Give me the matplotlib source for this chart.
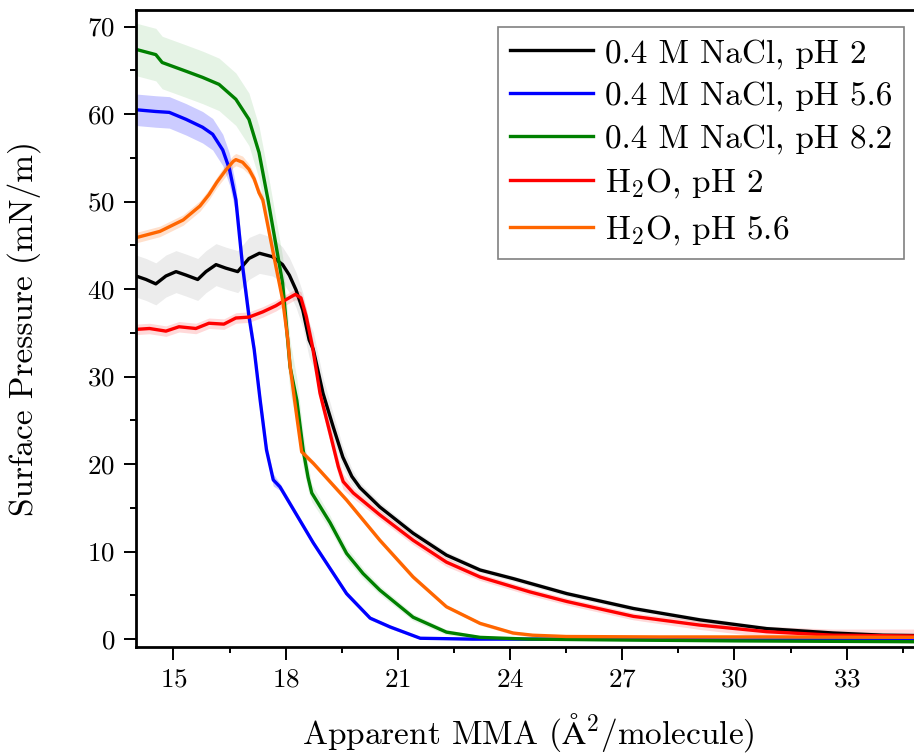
import numpy as np
import matplotlib
matplotlib.use("Agg")
import matplotlib.pyplot as plt
from matplotlib.ticker import MultipleLocator

plt.rcParams['font.family'] = ['serif']
plt.rcParams['font.serif'] = ['cmr10', 'DejaVu Serif']
plt.rcParams['mathtext.fontset'] = 'cm'
plt.rcParams['axes.formatter.use_mathtext'] = True

# 0.4 M NaCl, pH 2
x_nacl2 = [14.0, 14.27, 14.53, 14.8, 15.07, 15.34, 15.65, 15.87, 16.14, 16.4, 16.72, 17.02, 17.3, 17.65,
           17.92, 18.1, 18.28, 18.46, 18.63, 18.74, 19.0, 19.27, 19.53, 19.77, 19.99, 20.52, 21.41, 22.3,
           23.2, 24.1, 25.52, 27.3, 29.08, 30.86, 32.64, 33.97, 35.0]
y_nacl2 = [41.5, 41.1, 40.6, 41.5, 42.0, 41.6, 41.1, 42.0, 42.8, 42.4, 42.0, 43.5, 44.1, 43.7,
           42.8, 41.6, 39.9, 37.6, 34.2, 33.1, 28.1, 24.3, 20.8, 18.6, 17.3, 15.1, 12.1, 9.6,
           7.9, 6.9, 5.2, 3.5, 2.2, 1.2, 0.7, 0.45, 0.4]
e_nacl2 = [2.4, 2.4, 2.4, 2.4, 2.4, 2.4, 2.4, 2.4, 2.4, 2.4, 2.4, 2.4, 2.3, 2.2,
           2.0, 2.0, 2.0, 2.0, 2.0, 2.0, 1.8, 1.5, 1.2, 0.9, 0.6, 0.5, 0.4, 0.4,
           0.3, 0.3, 0.3, 0.3, 0.3, 0.3, 0.3, 0.3, 0.3]

# 0.4 M NaCl, pH 5.6
x_nacl56 = [14.0, 14.53, 14.89, 15.34, 15.78, 16.05, 16.32, 16.5, 16.67, 16.85, 17.02, 17.16, 17.32,
            17.49, 17.67, 17.85, 18.74, 19.63, 20.26, 20.79, 21.6, 23.0, 26.0, 30.0, 35.0]
y_nacl56 = [60.5, 60.3, 60.2, 59.4, 58.5, 57.7, 55.9, 53.7, 50.2, 42.6, 36.9, 33.1, 27.3,
            21.6, 18.2, 17.4, 11.0, 5.2, 2.4, 1.4, 0.1, 0.0, 0.0, -0.1, -0.1]
e_nacl56 = [1.8, 1.8, 1.8, 1.8, 1.8, 1.8, 1.8, 1.8, 1.6, 1.4, 1.2, 1.0, 0.9,
            0.8, 0.7, 0.4, 0.3, 0.3, 0.2, 0.2, 0.1, 0.1, 0.1, 0.1, 0.1]

# 0.4 M NaCl, pH 8.2
x_nacl82 = [14.0, 14.53, 14.7, 15.34, 15.78, 16.22, 16.67, 17.02, 17.29, 17.53, 17.92, 18.12, 18.3,
            18.47, 18.6, 18.7, 19.19, 19.63, 20.07, 20.52, 21.41, 22.3, 23.2, 24.5, 27.0, 30.0, 35.0]
y_nacl82 = [67.4, 66.8, 65.9, 64.9, 64.2, 63.4, 61.7, 59.4, 55.6, 50.2, 40.7, 31.1, 27.3,
            21.6, 18.5, 16.7, 13.3, 9.8, 7.5, 5.6, 2.5, 0.8, 0.2, 0.0, -0.1, -0.2, -0.3]
e_nacl82 = [3.0, 3.0, 3.0, 3.0, 3.0, 3.0, 3.0, 3.0, 3.0, 3.0, 3.0, 3.0, 2.5,
            2.0, 1.5, 1.0, 0.8, 0.7, 0.6, 0.5, 0.4, 0.3, 0.2, 0.1, 0.1, 0.1, 0.1]

# H2O, pH 2
x_h2o2 = [14.0, 14.36, 14.8, 15.15, 15.6, 15.95, 16.35, 16.67, 17.02, 17.39, 17.74, 18.01, 18.26,
          18.41, 18.55, 18.72, 18.92, 19.19, 19.41, 19.54, 19.81, 20.52, 21.41, 22.3, 23.2, 24.53,
          25.52, 27.3, 29.08, 30.86, 32.64, 35.0]
y_h2o2 = [35.4, 35.5, 35.2, 35.7, 35.5, 36.1, 36.0, 36.7, 36.8, 37.4, 38.1, 38.8, 39.4,
          39.0, 36.9, 33.4, 28.1, 23.5, 19.7, 18.0, 16.7, 14.2, 11.3, 8.8, 7.1, 5.4,
          4.3, 2.6, 1.6, 0.85, 0.45, 0.35]
e_h2o2 = [0.6, 0.6, 0.6, 0.6, 0.6, 0.6, 0.6, 0.6, 0.6, 0.6, 0.6, 0.6, 0.6,
          0.7, 0.9, 1.0, 1.0, 1.0, 1.0, 0.9, 0.6, 0.5, 0.5, 0.5, 0.4, 0.4,
          0.4, 0.4, 0.5, 0.6, 0.7, 0.8]

# H2O, pH 5.6
x_h2o56 = [14.02, 14.64, 15.26, 15.71, 15.95, 16.16, 16.4, 16.6, 16.67, 16.85, 17.02, 17.16, 17.29,
           17.39, 17.74, 17.92, 18.06, 18.12, 18.3, 18.43, 18.74, 19.63, 20.52, 21.41, 22.3, 23.2,
           24.08, 24.6, 25.5, 28.0, 31.0, 35.0]
y_h2o56 = [45.9, 46.6, 47.9, 49.5, 50.8, 52.2, 53.6, 54.6, 54.8, 54.5, 53.7, 52.6, 51.0,
           50.2, 42.6, 38.8, 34.2, 31.2, 25.4, 21.4, 20.1, 15.9, 11.3, 7.1, 3.7, 1.8,
           0.7, 0.45, 0.3, 0.25, 0.25, 0.2]
e_h2o56 = [0.6, 0.6, 0.6, 0.6, 0.6, 0.6, 0.7, 0.7, 0.7, 0.7, 0.6, 0.6, 0.6,
           0.6, 0.5, 0.5, 0.5, 0.5, 0.4, 0.4, 0.3, 0.3, 0.3, 0.3, 0.2, 0.2,
           0.2, 0.2, 0.2, 0.2, 0.2, 0.2]

labels = ['0.4 M NaCl, pH 2', '0.4 M NaCl, pH 5.6', '0.4 M NaCl, pH 8.2',
          r'H$_2$O, pH 2', r'H$_2$O, pH 5.6']
colors = ['black', 'blue', 'green', 'red', '#ff6600']
band_alpha = [0.15, 0.2, 0.12, 0.15, 0.2]
band_colors = ['grey', 'blue', '#2ca02c', 'red', '#ff6600']

series = [(x_nacl2, y_nacl2, e_nacl2), (x_nacl56, y_nacl56, e_nacl56),
          (x_nacl82, y_nacl82, e_nacl82), (x_h2o2, y_h2o2, e_h2o2),
          (x_h2o56, y_h2o56, e_h2o56)]

fig = plt.figure(figsize=(9.14, 7.53), dpi=100)
ax = fig.add_axes([136 / 914, 1 - 647 / 753, 785.4 / 914, 637 / 753])

for (x, y, e), lab, c, bc, a in zip(series, labels, colors, band_colors, band_alpha):
    x = np.array(x); y = np.array(y); e = np.array(e)
    ax.fill_between(x, y - e, y + e, color=bc, alpha=a, lw=0)
    ax.plot(x, y, color=c, lw=2.4, label=lab)

ax.set_xlim(14, 35)
ax.set_ylim(-0.9, 71.9)
ax.xaxis.set_major_locator(MultipleLocator(3))
ax.xaxis.set_minor_locator(MultipleLocator(1.5))
ax.yaxis.set_major_locator(MultipleLocator(10))
ax.yaxis.set_minor_locator(MultipleLocator(5))
ax.tick_params(which='major', direction='out', length=9, width=1.4, labelsize=19.5, pad=6)
ax.tick_params(which='minor', direction='out', length=4.5, width=1.4)
for s in ax.spines.values():
    s.set_linewidth(2)

ax.set_xlabel(r'Apparent MMA ($\mathrm{\AA}^{\boldsymbol{2}}$/molecule)', fontsize=24, labelpad=14)
ax.set_ylabel('Surface Pressure (mN/m)', fontsize=24, labelpad=33)

leg = ax.legend(loc='upper left', bbox_to_anchor=((498 - 136) / 785.4, 1 - 17 / 637), fontsize=24,
                fancybox=False, framealpha=1, edgecolor='grey', handlelength=2.5,
                handletextpad=0.35, borderaxespad=0, labelspacing=0.38, borderpad=0.35)
leg.get_frame().set_linewidth(1.2)

fig.savefig('out.png', dpi=100)
